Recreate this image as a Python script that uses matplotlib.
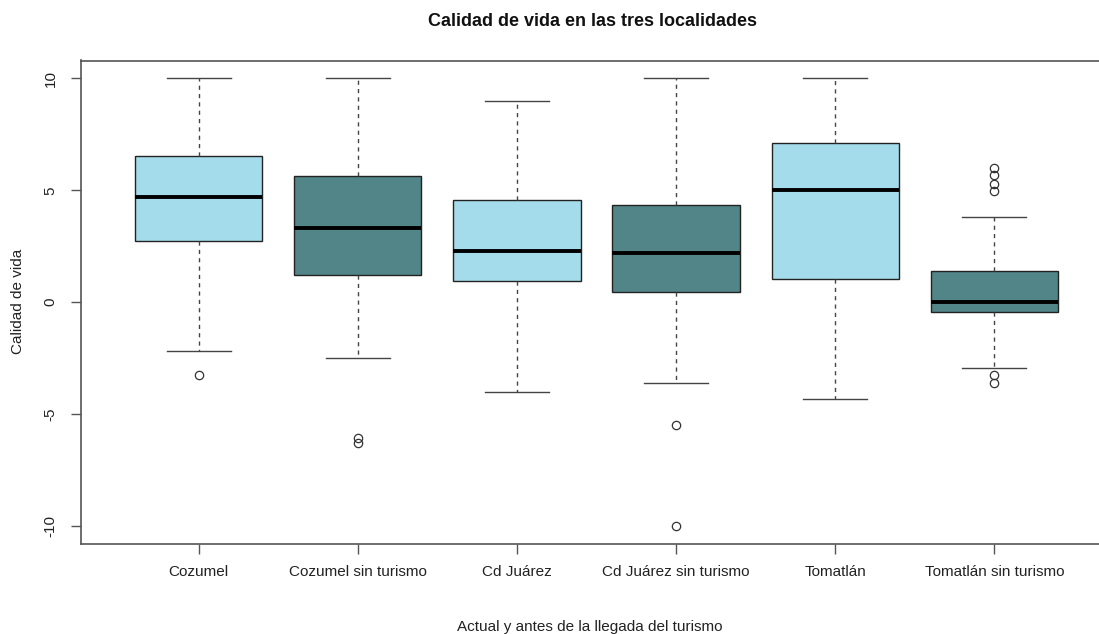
import matplotlib
matplotlib.use("Agg")
import matplotlib.pyplot as plt

categories = ["Cozumel", "Cozumel sin turismo", "Cd Juárez", "Cd Juárez sin turismo",
              "Tomatlán", "Tomatlán sin turismo"]
whisker_low = [-2.2, -2.5, -4.0, -3.6, -4.3, -2.95]
q1 = [2.75, 1.2, 0.95, 0.45, 1.05, -0.45]
medians = [4.7, 3.3, 2.3, 2.2, 5.0, 0.0]
q3 = [6.55, 5.65, 4.55, 4.35, 7.1, 1.4]
whisker_high = [10.0, 10.0, 9.0, 10.0, 10.0, 3.8]
outliers = [[-3.25], [-6.05, -6.3], [], [-5.5, -10.0], [],
            [6.0, 5.7, 5.3, 4.95, -3.25, -3.6]]
box_colors = ["#a5dcec", "#528588", "#a5dcec", "#528588", "#a5dcec", "#528588"]
yticks = [-10, -5, 0, 5, 10]

title = "Calidad de vida en las tres localidades"
xlabel = "Actual y antes de la llegada del turismo"
ylabel = "Calidad de vida"

plt.rcParams['font.family'] = ['Liberation Sans', 'DejaVu Sans']

W, H = 1099, 634
fig = plt.figure(figsize=(W / 100, H / 100), dpi=100)
left, right, top, bottom = 81, 1112, 60.5, 544
ax = fig.add_axes([left / W, (H - bottom) / H, (right - left) / W, (bottom - top) / H])

stats = []
for i, name in enumerate(categories):
    stats.append(dict(label=name, whislo=whisker_low[i], q1=q1[i], med=medians[i],
                      q3=q3[i], whishi=whisker_high[i], fliers=outliers[i]))

positions = list(range(1, len(categories) + 1))
bp = ax.bxp(stats, positions=positions, widths=0.8, patch_artist=True,
            showfliers=True,
            boxprops=dict(edgecolor="#222222", linewidth=1.0),
            medianprops=dict(color="black", linewidth=2.8, solid_capstyle="butt"),
            whiskerprops=dict(color="#444444", linewidth=1.0, linestyle=(0, (3, 3))),
            capprops=dict(color="#444444", linewidth=1.0),
            capwidths=0.4,
            flierprops=dict(marker="o", markersize=6, markerfacecolor="none",
                            markeredgecolor="#333333", markeredgewidth=0.9))
for patch, c in zip(bp["boxes"], box_colors):
    patch.set_facecolor(c)

ax.set_xlim(0.26, 6.74)
ax.set_ylim(-10.8, 10.8)
ax.set_xticks(positions)
ax.set_xticklabels(categories, fontsize=11, color="#222222")
ax.set_yticks(yticks)
ax.set_yticklabels([str(v) for v in yticks], rotation=90, va="center", fontsize=11,
                   color="#222222")
ax.tick_params(axis="x", length=7, width=1.0, color="#555555", pad=8)
ax.tick_params(axis="y", length=7, width=1.0, color="#555555", pad=10)
for s in ax.spines.values():
    s.set_color("#555555")
    s.set_linewidth(1.2)

fig.text(592 / W, 1 - 22 / H, title, ha="center", va="center", fontsize=13,
         fontweight="bold", color="#111111")
fig.text(590 / W, 1 - 627 / H, xlabel, ha="center", va="center", fontsize=11,
         color="#222222")
fig.text(18 / W, 1 - 301 / H, ylabel, ha="center", va="center", fontsize=11,
         rotation=90, color="#222222")

fig.savefig("out.png", dpi=100)
